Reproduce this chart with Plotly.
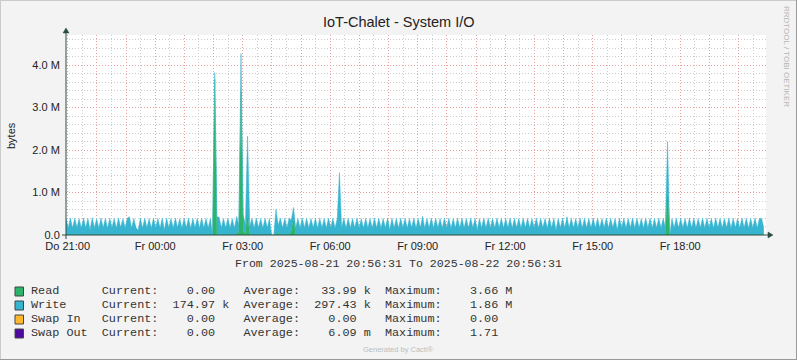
import plotly.graph_objects as go
from datetime import datetime, timedelta

# ---------------- data ----------------
start = datetime(2025, 8, 21, 20, 56, 31)
end = datetime(2025, 8, 22, 20, 56, 31)
step_s = 270  # sample spacing in seconds

# Write (kB), one value per sample
write_k = [
    390, 170, 400, 165, 395, 175, 385, 160, 400, 170, 390, 125, 405, 170, 385, 165, 400, 170, 395, 160,
    395, 170, 390, 165, 400, 175, 385, 170, 395, 430, 165, 390, 170, 120, 400, 165, 395, 170, 385, 160,
    400, 170, 390, 165, 395, 125, 400, 170, 390, 165, 400, 175, 385, 165, 395, 170, 400, 160, 390, 170,
    395, 165, 400, 170, 390, 165, 395, 0, 160, 430, 420, 170, 390, 165, 400, 170, 385, 160, 395, 170,
    900, 400, 200, 1860, 170, 395, 165, 400, 170, 390, 165, 395, 170, 390, 0, 0, 610, 170, 400, 165,
    395, 170, 400, 250, 270, 170, 390, 165, 400, 170, 395, 165, 390, 170, 400, 160, 395, 170, 390, 165,
    400, 170, 395, 165, 390, 1440, 170, 400, 165, 395, 170, 390, 165, 400, 170, 385, 160, 395, 170, 390,
    165, 400, 170, 395, 165, 390, 170, 400, 125, 395, 170, 390, 165, 400, 170, 395, 165, 390, 170, 400,
    165, 395, 170, 440, 165, 390, 170, 400, 165, 395, 170, 390, 165, 400, 170, 395, 160, 390, 170, 400,
    165, 395, 170, 390, 165, 400, 170, 395, 120, 390, 170, 400, 165, 395, 170, 390, 165, 400, 170, 395,
    165, 390, 170, 400, 165, 395, 170, 390, 165, 400, 170, 395, 165, 390, 170, 400, 165, 395, 170, 390,
    165, 400, 170, 395, 120, 390, 170, 400, 165, 430, 170, 395, 165, 390, 170, 400, 165, 395, 170, 390,
    165, 400, 170, 395, 165, 390, 170, 400, 165, 395, 170, 390, 125, 400, 170, 395, 165, 390, 170, 400,
    165, 395, 170, 390, 165, 400, 170, 395, 165, 390, 170, 400, 165, 395, 170, 1100, 0, 390, 170, 400,
    165, 395, 170, 390, 165, 400, 170, 395, 165, 390, 170, 400, 165, 395, 170, 390, 165, 400, 170, 395,
    165, 390, 170, 400, 165, 395, 170, 390, 165, 400, 170, 395, 165, 390, 170, 400, 165, 395, 390, 170,
]

# Read (kB): non-zero samples only (sample number -> value)
read_at = [68, 78, 79, 80, 81, 82, 83, 84, 97, 103, 104, 125, 275]
read_val = [3660, 40, 60, 3370, 80, 50, 470, 30, 60, 100, 380, 30, 1100]

# axis labels
x_labels = ["Do 21:00", "Fr 00:00", "Fr 03:00", "Fr 06:00",
            "Fr 09:00", "Fr 12:00", "Fr 15:00", "Fr 18:00"]
y_ticks_m = [0, 1, 2, 3, 4]
y_labels = ["0.0", "1.0 M", "2.0 M", "3.0 M", "4.0 M"]

# legend
leg_names = ["Read", "Write", "Swap In", "Swap Out"]
leg_colors = ["#2DB36B", "#36B4D0", "#FDB82E", "#4E0A9E"]
leg_current = ["0.00", "174.97 k", "0.00", "0.00"]
leg_average = ["33.99 k", "297.43 k", "0.00", "6.09 m"]
leg_maximum = ["3.66 M", "1.86 M", "0.00", "1.71"]

title = "IoT-Chalet - System I/O"
y_title = "bytes"
period_text = "From 2025-08-21 20:56:31 To 2025-08-22 20:56:31"

# ---------------- build ----------------
n = len(write_k)
times = [start + timedelta(seconds=step_s * i) for i in range(n)]
read_k = [0] * n
for i, v in zip(read_at, read_val):
    read_k[i] = v
read_b = [v * 1000 for v in read_k]
write_b = [v * 1000 for v in write_k]

W, H = 797, 360
L, R, T, B = 66, 31, 35, 125
PW, PH = W - L - R, H - T - B


def px(x):
    return (x - L) / PW


def py(y):
    return (T + PH - y) / PH


fig = go.Figure()
fig.add_trace(go.Scatter(x=times, y=read_b, stackgroup="io", mode="lines",
                         line=dict(width=0.5, color=leg_colors[0]),
                         fillcolor=leg_colors[0], hoverinfo="skip"))
fig.add_trace(go.Scatter(x=times, y=write_b, stackgroup="io", mode="lines",
                         line=dict(width=0.5, color=leg_colors[1]),
                         fillcolor=leg_colors[1], hoverinfo="skip"))

# ticks / grid
first_hour = datetime(2025, 8, 21, 21, 0, 0)
hour_vals, hour_text = [], []
t = first_hour
k = 0
while t < end:
    hour_vals.append(t)
    hour_text.append(x_labels[k // 3] if k % 3 == 0 else "")
    t += timedelta(hours=1)
    k += 1
half_vals = []
t = first_hour - timedelta(minutes=30)
while t < end:
    if t > start:
        half_vals.append(t)
    t += timedelta(hours=1)

y_minor = [v / 10 * 1e6 for v in range(2, 48, 2) if v % 10 != 0]

MAJ = "#EBA0A0"
MIN = "#CCCCCC"
DASH = "1px,2px"
AX = "#2C4D43"
TXT = "#222222"
SANS = "Liberation Sans"
MONO = "Liberation Mono"

fig.update_layout(
    width=W, height=H,
    margin=dict(l=L, r=R, t=T, b=B, pad=0),
    paper_bgcolor="#F3F3F3", plot_bgcolor="#FFFFFF",
    showlegend=False,
    xaxis=dict(range=[start, end], type="date",
               tickmode="array", tickvals=hour_vals, ticktext=hour_text,
               showgrid=True, gridcolor=MAJ, griddash=DASH, gridwidth=1,
               ticks="outside", ticklen=1, tickcolor="rgba(0,0,0,0)",
               zeroline=False, showline=False, automargin=False,
               tickfont=dict(family=SANS, size=11, color=TXT),
               minor=dict(tickmode="array", tickvals=half_vals, showgrid=True,
                          gridcolor=MIN, griddash=DASH, gridwidth=1, ticks=""),
               fixedrange=True),
    yaxis=dict(range=[0, 4.706e6],
               tickmode="array", tickvals=[v * 1e6 for v in y_ticks_m], ticktext=y_labels,
               showgrid=True, gridcolor=MAJ, griddash=DASH, gridwidth=1,
               ticks="outside", ticklen=3, tickcolor="rgba(0,0,0,0)",
               zeroline=False, showline=False, automargin=False,
               tickfont=dict(family=SANS, size=11, color=TXT),
               minor=dict(tickmode="array", tickvals=y_minor, showgrid=True,
                          gridcolor=MIN, griddash=DASH, gridwidth=1, ticks=""),
               fixedrange=True),
)

shapes = []
# image border
shapes.append(dict(type="line", xref="paper", yref="paper", x0=px(0), x1=px(W), y0=py(0.5), y1=py(0.5),
                   line=dict(color="#CBCBCB", width=1)))
shapes.append(dict(type="line", xref="paper", yref="paper", x0=px(0.5), x1=px(0.5), y0=py(0), y1=py(H),
                   line=dict(color="#CBCBCB", width=1)))
shapes.append(dict(type="line", xref="paper", yref="paper", x0=px(0), x1=px(W), y0=py(H - 0.5), y1=py(H - 0.5),
                   line=dict(color="#999999", width=1)))
shapes.append(dict(type="line", xref="paper", yref="paper", x0=px(W - 0.5), x1=px(W - 0.5), y0=py(0), y1=py(H),
                   line=dict(color="#999999", width=1)))
# axes with arrows
shapes.append(dict(type="line", xref="paper", yref="paper", x0=px(62), x1=px(770), y0=0, y1=0,
                   line=dict(color=AX, width=1)))
shapes.append(dict(type="line", xref="paper", yref="paper", x0=0, x1=0, y0=py(239), y1=py(31),
                   line=dict(color=AX, width=1)))
shapes.append(dict(type="path", xref="paper", yref="paper",
                   path=f"M {px(768)} {py(232)} L {px(773)} {py(235)} L {px(768)} {py(238)} Z",
                   fillcolor=AX, line=dict(color=AX, width=0.5)))
shapes.append(dict(type="path", xref="paper", yref="paper",
                   path=f"M {px(63)} {py(33)} L {px(66)} {py(28)} L {px(69)} {py(33)} Z",
                   fillcolor=AX, line=dict(color=AX, width=0.5)))

annotations = []
annotations.append(dict(text=title, x=px(398.5), y=py(22), xref="paper", yref="paper",
                        xanchor="center", yanchor="middle", showarrow=False,
                        font=dict(family=SANS, size=14.5, color=TXT)))
annotations.append(dict(text=y_title, x=px(11), y=py(136), xref="paper", yref="paper",
                        xanchor="center", yanchor="middle", showarrow=False, textangle=-90,
                        font=dict(family=SANS, size=11, color=TXT)))
annotations.append(dict(text="RRDTOOL / TOBI OETIKER", x=px(787), y=py(56), xref="paper", yref="paper",
                        xanchor="center", yanchor="middle", showarrow=False, textangle=90,
                        font=dict(family=SANS, size=8, color="#B5B5B5")))
annotations.append(dict(text=period_text.replace(" ", "\u00a0"), x=px(398), y=py(263), xref="paper", yref="paper",
                        xanchor="center", yanchor="middle", showarrow=False,
                        font=dict(family=MONO, size=11.6, color="#333333")))
annotations.append(dict(text="Generated by Cacti®", x=px(398.5), y=py(349.5), xref="paper", yref="paper",
                        xanchor="center", yanchor="middle", showarrow=False,
                        font=dict(family=SANS, size=7.5, color="#BDBDBD")))

row_y = [291, 305, 319, 333]
for name, col, cur, avg, mx, yc in zip(leg_names, leg_colors, leg_current, leg_average, leg_maximum, row_y):
    def fmt(v):
        parts = v.split(" ")
        num = parts[0]
        unit = parts[1] if len(parts) > 1 else " "
        return f"{num:>8} {unit}"
    line = f"{name:<10}Current:{fmt(cur)}  Average:{fmt(avg)}  Maximum:{fmt(mx)}"
    annotations.append(dict(text=line.replace(" ", "\u00a0"), x=px(28.5), y=py(yc), xref="paper", yref="paper",
                            xanchor="left", yanchor="middle", showarrow=False,
                            font=dict(family=MONO, size=11.8, color="#333333")))
    shapes.append(dict(type="rect", xref="paper", yref="paper",
                       x0=px(15), x1=px(23.5), y0=py(yc + 5), y1=py(yc - 4),
                       fillcolor=col, line=dict(color="#444444", width=1)))

fig.update_layout(shapes=shapes, annotations=annotations)
fig.write_html("out.html", config={"displayModeBar": False},
               post_script="document.body.style.margin='0px';document.body.style.overflow='hidden';")
